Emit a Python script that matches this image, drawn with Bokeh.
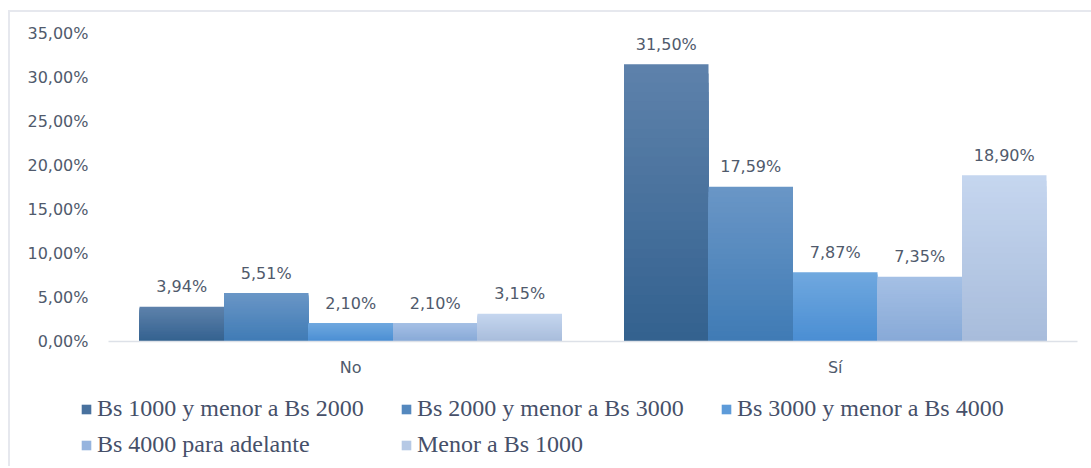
from bokeh.plotting import figure
from bokeh.layouts import column, row
from bokeh.models import FactorRange, Range1d, Legend, LegendItem, ColumnDataSource, FixedTicker, CustomJSTickFormatter
from bokeh.transform import dodge
from bokeh.embed import file_html
from bokeh.resources import INLINE
from bokeh.core.properties import value

categories = ["No", "Sí"]
series = ["Bs 1000 y menor a Bs 2000", "Bs 2000 y menor a Bs 3000",
          "Bs 3000 y menor a Bs 4000", "Bs 4000 para adelante", "Menor a Bs 1000"]
s1 = [3.94, 31.50]
s2 = [5.51, 17.59]
s3 = [2.10, 7.87]
s4 = [2.10, 7.35]
s5 = [3.15, 18.90]
values = [s1, s2, s3, s4, s5]
labels = [["3,94%", "31,50%"], ["5,51%", "17,59%"], ["2,10%", "7,87%"],
          ["2,10%", "7,35%"], ["3,15%", "18,90%"]]
yticks = [0, 5, 10, 15, 20, 25, 30, 35]

top_colors = ["#5e82ab", "#6a96c6", "#70a8df", "#a5c0e5", "#c5d6ef"]
bot_colors = ["#33618f", "#3f7bb5", "#4a8ed3", "#87a9d7", "#a8bcdb"]
mid_colors = ["#48719e", "#5488be", "#5d9bd9", "#96b4de", "#b6c9e5"]

def hx(c):
    return tuple(int(c[i:i + 2], 16) for i in (1, 3, 5))

def mix(a, b, t):
    A, B = hx(a), hx(b)
    return "#%02x%02x%02x" % tuple(round(A[i] + (B[i] - A[i]) * t) for i in range(3))

p = figure(x_range=FactorRange(*categories, range_padding=0), y_range=(0, 35),
           frame_width=969, frame_height=308,
           min_border_left=98, min_border_right=12, min_border_top=21, min_border_bottom=40,
           output_backend="svg", toolbar_location=None,
           background_fill_color="white", border_fill_color="white")

bw = 0.1744
offsets = [(-2 + i) * bw for i in range(5)]
N = 30
for i, (vals, lab) in enumerate(zip(values, labels)):
    for k in range(N - 1, -1, -1):
        t = (k + 0.5) / N
        src = ColumnDataSource(dict(x=categories, t=[v * (k + 1) / N for v in vals]))
        col = mix(bot_colors[i], top_colors[i], t)
        p.vbar(x=dodge("x", offsets[i], range=p.x_range), bottom=0, top="t",
               width=bw, source=src, fill_color=col, line_color=None)
    lsrc = ColumnDataSource(dict(x=categories, y=vals, txt=lab))
    p.text(x=dodge("x", offsets[i], range=p.x_range), y="y", text="txt", source=lsrc,
           text_align="center", text_baseline="alphabetic", y_offset=-20,
           text_font=value("DejaVu Sans"), text_font_size="16px", text_color="#505a6c")

p.yaxis.ticker = FixedTicker(ticks=yticks)
p.yaxis.formatter = CustomJSTickFormatter(code="return tick.toFixed(2).replace('.', ',') + '%';")
p.yaxis.axis_line_color = None
p.yaxis.major_tick_line_color = None
p.yaxis.minor_tick_line_color = None
p.yaxis.major_label_text_font = "DejaVu Sans"
p.yaxis.major_label_text_font_size = "16px"
p.yaxis.major_label_text_color = "#505a6c"
p.yaxis.major_label_standoff = 14

p.xaxis.axis_line_color = "#dde1e8"
p.xaxis.axis_line_width = 1.5
p.xaxis.major_tick_line_color = None
p.xaxis.minor_tick_line_color = None
p.xaxis.major_label_text_font = "DejaVu Sans"
p.xaxis.major_label_text_font_size = "16px"
p.xaxis.major_label_text_color = "#505a6c"
p.xaxis.major_label_standoff = 10

p.xgrid.grid_line_color = None
p.ygrid.grid_line_color = None
p.outline_line_color = None

# legend-only figure (zero-height bars carry the legend swatches)
lg = figure(width=1081, height=85, x_axis_type=None, y_axis_type=None,
            x_range=FactorRange(*categories, range_padding=0), y_range=Range1d(0, 35),
            min_border_left=60, min_border_right=0, min_border_top=3, min_border_bottom=0,
            output_backend="svg", toolbar_location=None,
            background_fill_color="white", border_fill_color="white")
lg.xgrid.grid_line_color = None
lg.ygrid.grid_line_color = None
lg.outline_line_color = None
rends = []
for i, vals in enumerate(values):
    src = ColumnDataSource(dict(x=categories, v=vals))
    r = lg.vbar(x="x", top="v", bottom="v", width=bw, source=src,
                fill_color=mid_colors[i], line_color=None)
    rends.append(LegendItem(label=series[i], renderers=[r]))
# column-major fill: reorder so rows read 1,2,3 / 4,5
order = [0, 3, 1, 4, 2]
legend = Legend(items=[rends[j] for j in order], ncols=3, location="top_left",
                label_text_font="Liberation Serif", label_text_font_size="24px",
                label_text_color="#465069", glyph_width=12, glyph_height=12,
                label_standoff=5, spacing=7, padding=4, margin=10,
                border_line_color=None, background_fill_alpha=0,
                label_height=29, label_width=296)
lg.add_layout(legend, "center")

layout = column(p, row(lg), spacing=0)
layout.margin = (10, 0, 0, 8)
layout.styles = {"border-top": "2px solid #e6e8ee", "border-left": "2px solid #e6e8ee"}

open("out.html", "w").write(file_html(layout, INLINE))
